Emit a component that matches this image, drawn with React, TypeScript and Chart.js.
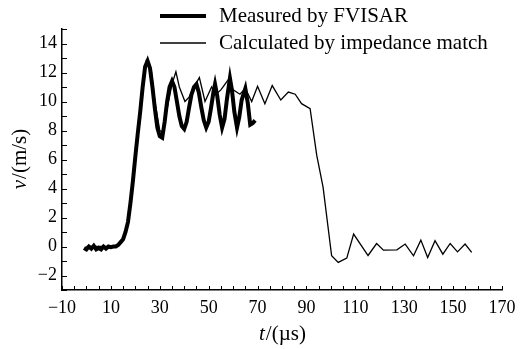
import React, { useEffect, useRef } from "react";
import { Chart, registerables } from "chart.js";

Chart.register(...registerables);

// Measured by FVISAR (time in µs, velocity in m/s)
const tMeasured = [-1, 0, 1, 2, 3, 4, 5, 6, 7, 8, 9, 10, 11, 12, 13, 14, 15, 16, 17, 18, 19, 20, 21, 22, 23, 24, 25, 26, 27, 28, 29, 30, 31, 32, 33, 34, 35, 36, 37, 38, 39, 40, 41, 42, 43, 44, 45, 46, 47, 48, 49, 50, 51, 52, 52.6, 53.5, 54.5, 55.5, 56.5, 57.5, 58.7, 59.5, 60.5, 61.6, 62.5, 63.5, 65, 66, 67, 68, 69];
const vMeasured = [-0.1, -0.2, 0, -0.15, 0.05, -0.2, -0.1, -0.2, 0, -0.15, 0, -0.05, 0, 0, 0.1, 0.3, 0.5, 1, 1.7, 3, 4.5, 6.2, 7.8, 9.3, 11, 12.4, 12.8, 12.3, 11, 9.5, 8.2, 7.6, 7.5, 8.6, 10, 11, 11.4, 11, 10, 9, 8.3, 8.1, 8.6, 9.6, 10.5, 11, 11.2, 10.6, 9.6, 8.7, 8.2, 8.6, 9.6, 10.7, 11.2, 10.4, 9.1, 8.2, 8.8, 10.2, 11.6, 10.8, 9.3, 8.2, 8.9, 10.1, 10.9, 9.9, 8.4, 8.5, 8.7];

// Calculated by impedance match
const tCalc = [0, 5, 10, 13, 15, 17, 19, 21, 23, 24.5, 25.5, 26.5, 28, 30, 31, 33, 35, 36.6, 38, 40.3, 42, 44, 46.2, 48.5, 51.2, 53, 55, 58, 60, 62.8, 65, 67.6, 70, 73, 76, 79.5, 82.6, 85.4, 88, 91.5, 94.2, 96.8, 100.3, 103, 106.5, 109.3, 115.2, 118.7, 121.5, 127, 130.4, 133.8, 136.8, 139.6, 142.6, 145.8, 148.8, 151.8, 154.9, 157.6];
const vCalc = [0, 0, 0, 0.1, 0.5, 1.6, 4.2, 7.5, 10.8, 12.8, 12.6, 12.2, 10, 8, 7.9, 9.5, 11.2, 12.05, 11, 10, 10.3, 11, 11.65, 10, 11, 10.5, 10.8, 11.5, 10.8, 10.5, 10.9, 10, 11.05, 9.85, 11.1, 10.1, 10.65, 10.5, 9.85, 9.5, 6.3, 4.1, -0.64, -1.1, -0.8, 0.86, -0.62, 0.2, -0.25, -0.23, 0.17, -0.64, 0.44, -0.76, 0.4, -0.53, 0.21, -0.37, 0.17, -0.41];

const seriesLabels = ["Measured by FVISAR", "Calculated by impedance match"];
const xMin = -10, xMax = 170, xStep = 5;
const yMin = -3, yMax = 15, yStep = 1;

const FONT = '"Liberation Serif", "DejaVu Serif", serif';

const fmt = (v: number) => (v < 0 ? "\u2212" + Math.abs(v) : String(v));

const decorPlugin = {
  id: "decor",
  afterDraw(chart: any) {
    const ctx = chart.ctx as CanvasRenderingContext2D;
    const { left, right, top, bottom } = chart.chartArea;
    const xs = chart.scales.x;
    const ys = chart.scales.y;
    ctx.save();
    ctx.strokeStyle = "#000";
    ctx.lineWidth = 1;
    // inward tick marks
    xs.ticks.forEach((t: any) => {
      const px = Math.round(xs.getPixelForValue(t.value)) + 0.5;
      ctx.beginPath();
      ctx.moveTo(px, bottom);
      ctx.lineTo(px, bottom - 4);
      ctx.stroke();
    });
    ys.ticks.forEach((t: any) => {
      const py = Math.round(ys.getPixelForValue(t.value)) + 0.5;
      ctx.beginPath();
      ctx.moveTo(left, py);
      ctx.lineTo(left + 5, py);
      ctx.stroke();
    });
    // legend
    const ds = chart.data.datasets;
    const legendX0 = 160, legendX1 = 206, textX = 219;
    const rows = [16, 43];
    ctx.fillStyle = "#000";
    ctx.font = "21px " + FONT;
    ctx.textBaseline = "middle";
    ctx.textAlign = "left";
    [0, 1].forEach((i) => {
      const d = ds[i];
      ctx.lineWidth = d.borderWidth;
      ctx.beginPath();
      ctx.moveTo(legendX0, rows[i]);
      ctx.lineTo(legendX1, rows[i]);
      ctx.stroke();
      ctx.fillText(d.label, textX, rows[i]);
    });
    // axis titles with italic variable
    const drawTitle = (ital: string, rest: string) => {
      ctx.font = "italic 21px " + FONT;
      const w1 = ctx.measureText(ital).width;
      ctx.font = "21px " + FONT;
      const w2 = ctx.measureText(rest).width;
      const start = -(w1 + w2) / 2;
      ctx.textAlign = "left";
      ctx.font = "italic 21px " + FONT;
      ctx.fillText(ital, start, 0);
      ctx.font = "21px " + FONT;
      ctx.fillText(rest, start + w1 + 1, 0);
    };
    ctx.save();
    ctx.translate((left + right) / 2, 334);
    drawTitle("t", "/(\u00b5s)");
    ctx.restore();
    ctx.save();
    ctx.translate(20, (top + bottom) / 2);
    ctx.rotate(-Math.PI / 2);
    drawTitle("v", "/(m/s)");
    ctx.restore();
    ctx.restore();
  },
};

export default function App() {
  const ref = useRef<HTMLCanvasElement | null>(null);
  useEffect(() => {
    if (!ref.current) return;
    const chart = new Chart(ref.current, {
      type: "line",
      data: {
        datasets: [
          {
            label: seriesLabels[0],
            data: tMeasured.map((t, i) => ({ x: t, y: vMeasured[i] })),
            borderColor: "#000",
            borderWidth: 4,
            pointRadius: 0,
            tension: 0,
            order: 1,
          },
          {
            label: seriesLabels[1],
            data: tCalc.map((t, i) => ({ x: t, y: vCalc[i] })),
            borderColor: "#000",
            borderWidth: 1.3,
            pointRadius: 0,
            tension: 0,
            order: 0,
          },
        ],
      },
      options: {
        animation: false,
        responsive: true,
        maintainAspectRatio: false,
        layout: { padding: { left: 0, top: 29, right: 23, bottom: 0 } },
        plugins: { legend: { display: false }, tooltip: { enabled: false } },
        scales: {
          x: {
            type: "linear",
            min: xMin,
            max: xMax,
            afterFit: (s: any) => { s.height = 59; },
            grid: { display: true, drawOnChartArea: false, drawTicks: false },
            border: { display: true, color: "#000", width: 1.5 },
            ticks: {
              stepSize: xStep,
              autoSkip: false,
              maxRotation: 0,
              padding: 7,
              color: "#000",
              font: { family: FONT, size: 18 },
              callback: (v: any) => ((Number(v) - xMin) % 20 === 0 ? fmt(Number(v)) : ""),
            },
          },
          y: {
            type: "linear",
            min: yMin,
            max: yMax,
            afterFit: (s: any) => { s.width = 62; },
            grid: { display: true, drawOnChartArea: false, drawTicks: false },
            border: { display: true, color: "#000", width: 1.5 },
            ticks: {
              stepSize: yStep,
              autoSkip: false,
              padding: 5,
              color: "#000",
              font: { family: FONT, size: 18 },
              callback: (v: any) => (Number(v) % 2 === 0 ? fmt(Number(v)) : ""),
            },
          },
        },
      },
      plugins: [decorPlugin],
    });
    return () => chart.destroy();
  }, []);
  return (
    <div style={{ position: "fixed", left: 0, top: 0, width: 525, height: 349, background: "#fff" }}>
      <canvas ref={ref} />
    </div>
  );
}
